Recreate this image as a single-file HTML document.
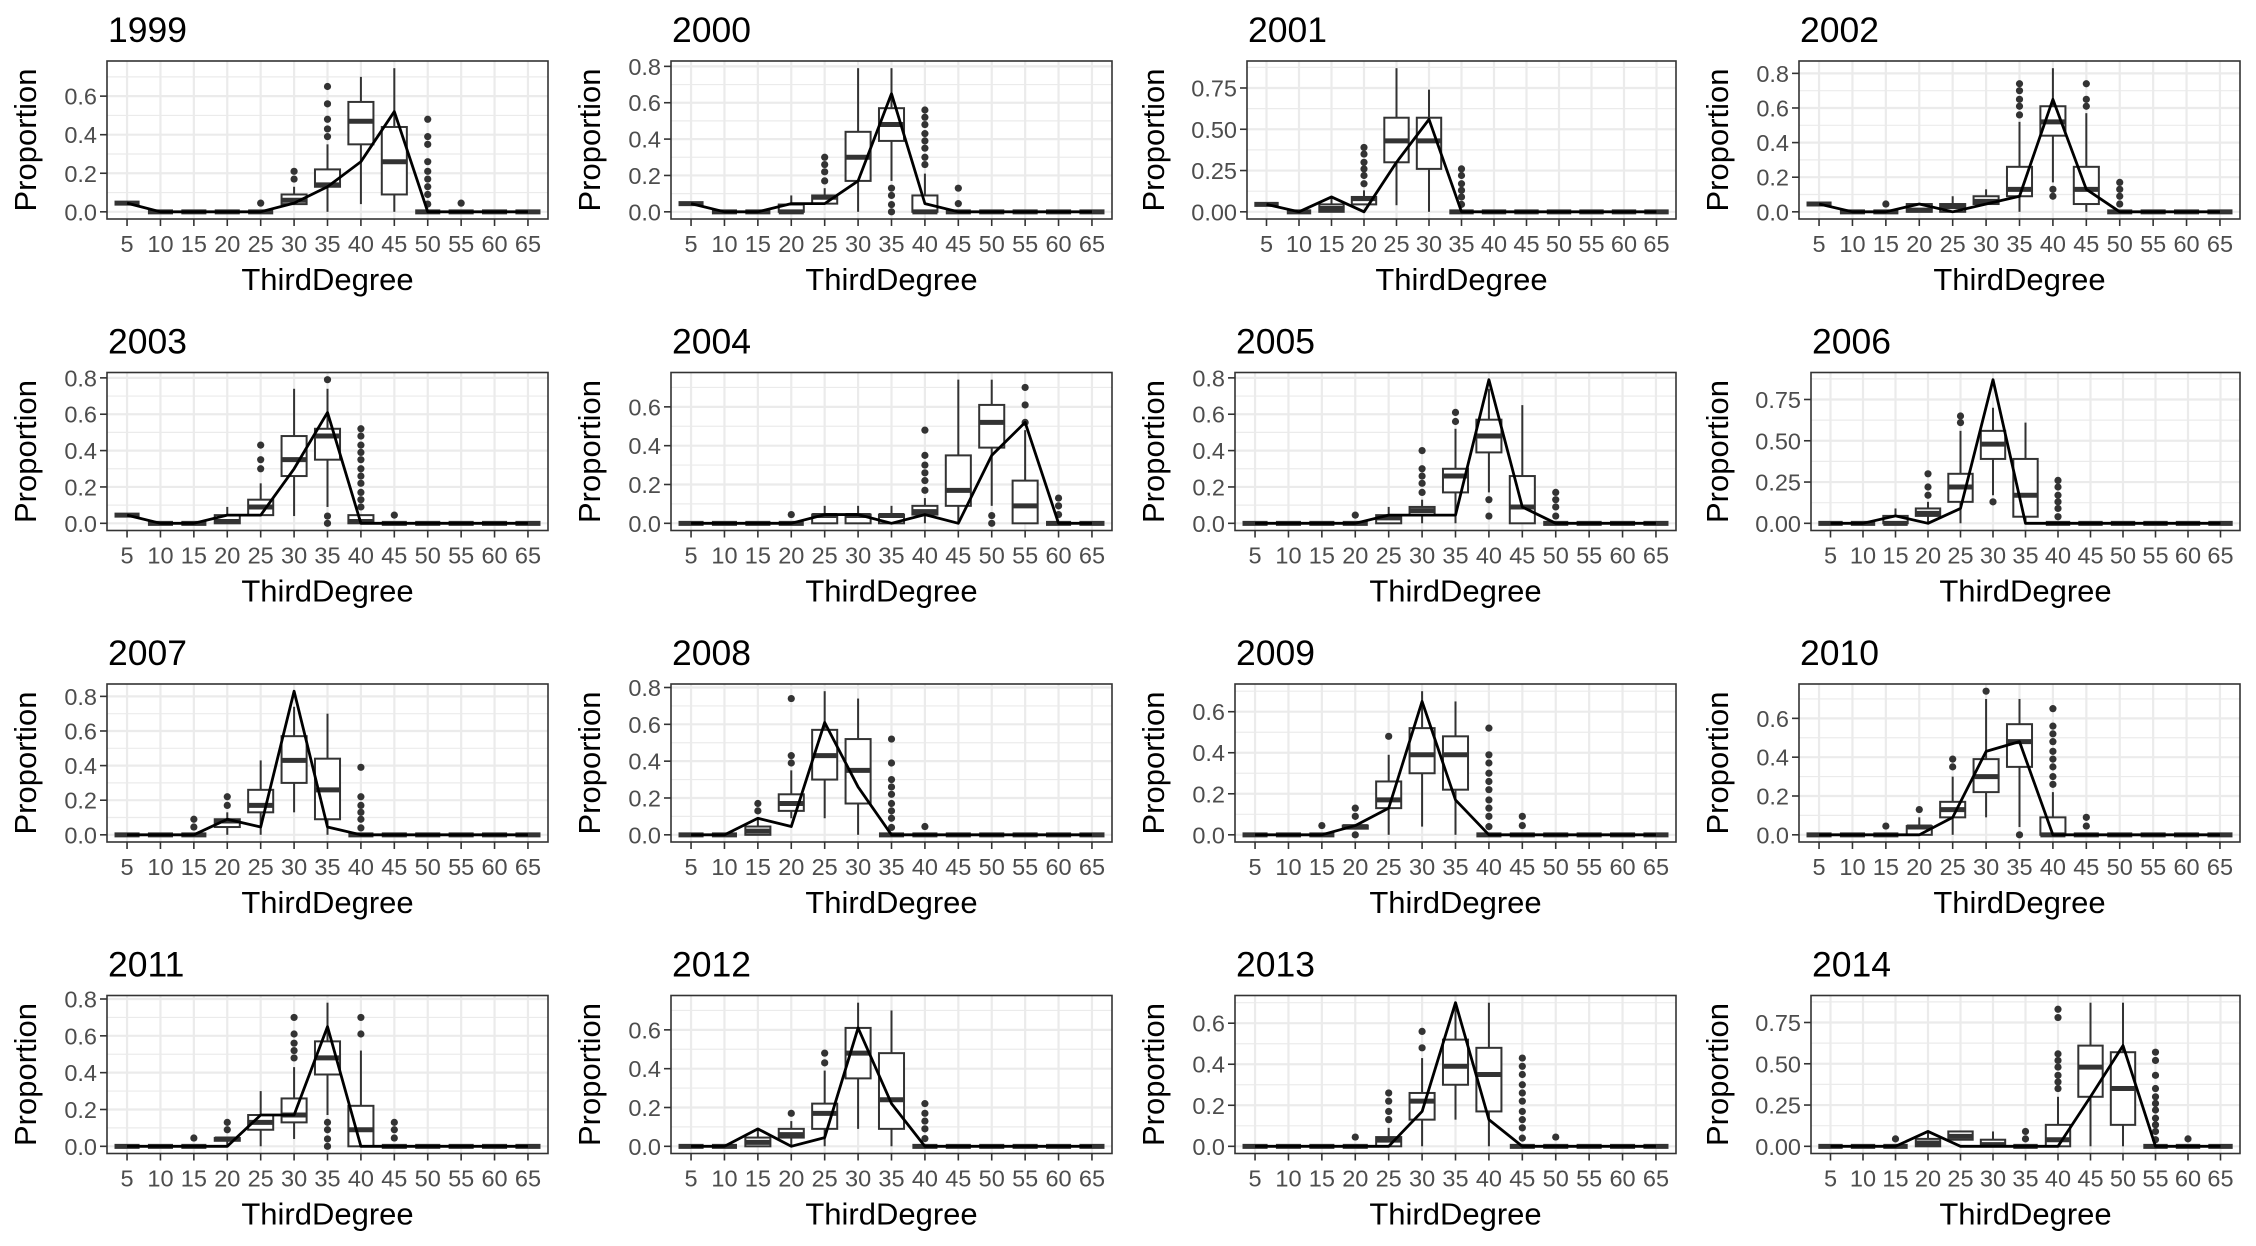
<!DOCTYPE html>
<html><head><meta charset="utf-8">
<style>
html,body{margin:0;padding:0;background:#fff;}
svg{display:block;font-family:"Liberation Sans",Arial,sans-serif;}
</style></head>
<body>
<svg id="chart" width="2256" height="1246" viewBox="0 0 2256 1246" xmlns="http://www.w3.org/2000/svg"></svg>
<script>
const years = [1999,2000,2001,2002,2003,2004,2005,2006,2007,2008,2009,2010,2011,2012,2013,2014];
const categories = [5,10,15,20,25,30,35,40,45,50,55,60,65];
const tickSteps = [.2,.2,.25,.2,.2,.2,.2,.25,.2,.2,.2,.2,.2,.2,.2,.25];
const Z=[0,0,0,0,0], F=[.045,.045,.045,.045,.045];
const boxStats = [
[F,Z,Z,Z,Z,[.04,.04,.06,.09,.13],[0,.13,.14,.22,.35],[.04,.35,.47,.57,.70],[0,.09,.26,.44,.745],Z,Z,Z,Z],
[F,Z,Z,[0,0,0,.04,.09],[.045,.045,.08,.09,.13],[0,.17,.30,.44,.79],[.17,.39,.48,.57,.79],[0,0,0,.09,.21],Z,Z,Z,Z,Z],
[F,Z,[0,0,.02,.045,.09],[.045,.045,.08,.09,.13],[.04,.30,.43,.57,.87],[0,.26,.43,.57,.74],Z,Z,Z,Z,Z,Z,Z],
[F,Z,Z,[0,0,.01,.045,.045],[0,0,.03,.045,.09],[.045,.045,.06,.09,.13],[0,.09,.13,.26,.52],[.17,.44,.52,.61,.83],[0,.045,.13,.26,.57],Z,Z,Z,Z],
[F,Z,Z,[0,0,.01,.045,.09],[.045,.045,.09,.13,.22],[.04,.26,.35,.48,.74],[.09,.35,.48,.52,.74],[0,0,.01,.045,.045],Z,Z,Z,Z,Z],
[Z,Z,Z,Z,[0,0,.04,.045,.09],[0,0,.04,.045,.09],[0,0,.04,.045,.09],[0,.045,.06,.09,.13],[0,.09,.17,.35,.74],[.09,.39,.52,.61,.74],[0,0,.09,.22,.48],Z,Z],
[Z,Z,Z,Z,[0,0,.03,.045,.09],[0,.045,.07,.09,.13],[0,.17,.26,.30,.52],[.17,.39,.48,.57,.74],[0,0,.09,.26,.65],Z,Z,Z,Z],
[Z,Z,[0,0,0,.045,.09],[0,.045,.06,.09,.13],[0,.13,.22,.30,.56],[.17,.39,.48,.56,.70],[0,.04,.17,.39,.61],Z,Z,Z,Z,Z,Z],
[Z,Z,Z,[0,.045,.08,.09,.13],[0,.13,.17,.26,.43],[.13,.30,.43,.57,.74],[0,.09,.26,.44,.70],Z,Z,Z,Z,Z,Z],
[Z,Z,[0,0,.02,.045,.09],[.09,.13,.17,.22,.35],[.09,.30,.43,.57,.78],[0,.17,.35,.52,.74],Z,Z,Z,Z,Z,Z,Z],
[Z,Z,Z,[.03,.03,.04,.045,.045],[0,.13,.17,.26,.39],[.04,.30,.39,.52,.70],[0,.22,.39,.48,.65],Z,Z,Z,Z,Z,Z],
[Z,Z,Z,[0,0,.04,.045,.09],[0,.09,.13,.17,.30],[.09,.22,.30,.39,.70],[.04,.35,.48,.57,.70],[0,0,0,.09,.22],Z,Z,Z,Z,Z],
[Z,Z,Z,[0,.03,.04,.045,.045],[0,.09,.13,.17,.30],[.04,.13,.17,.26,.43],[.17,.39,.48,.57,.78],[0,0,.09,.22,.52],Z,Z,Z,Z,Z],
[Z,Z,[0,0,.02,.045,.09],[0,.045,.06,.09,.13],[0,.09,.17,.22,.39],[.09,.35,.48,.61,.74],[0,.09,.24,.48,.70],Z,Z,Z,Z,Z,Z],
[Z,Z,Z,Z,[0,0,.03,.045,.09],[0,.13,.22,.26,.43],[.13,.30,.39,.52,.70],[0,.17,.35,.48,.70],Z,Z,Z,Z,Z],
[Z,Z,Z,[0,0,.02,.045,.09],[.04,.04,.06,.09,.09],[0,0,.01,.04,.09],Z,[0,0,.04,.13,.30],[0,.30,.48,.61,.87],[0,.13,.35,.57,.87],Z,Z,Z]
];
const outliers = [
[[4,.045],[5,.17],[5,.21],[6,.39],[6,.43],[6,.48],[6,.56],[6,.65],[9,.04],[9,.09],[9,.13],[9,.17],[9,.21],[9,.26],[9,.35],[9,.39],[9,.48],[10,.045]],
[[4,.17],[4,.22],[4,.26],[4,.30],[6,0],[6,.04],[6,.09],[6,.13],[7,.26],[7,.30],[7,.35],[7,.39],[7,.43],[7,.48],[7,.52],[7,.56],[8,.045],[8,.13]],
[[3,.17],[3,.22],[3,.26],[3,.30],[3,.35],[3,.39],[6,.045],[6,.09],[6,.13],[6,.17],[6,.22],[6,.26]],
[[2,.045],[6,.56],[6,.61],[6,.65],[6,.70],[6,.74],[7,.09],[7,.13],[8,.61],[8,.65],[8,.74],[9,.045],[9,.09],[9,.13],[9,.17]],
[[4,.30],[4,.35],[4,.43],[6,0],[6,.04],[6,.79],[7,.09],[7,.13],[7,.17],[7,.22],[7,.26],[7,.30],[7,.35],[7,.39],[7,.43],[7,.48],[7,.52],[8,.045]],
[[3,.045],[7,.17],[7,.22],[7,.26],[7,.30],[7,.35],[7,.48],[9,0],[9,.04],[10,.52],[10,.61],[10,.70],[11,.045],[11,.09],[11,.13]],
[[3,.045],[5,.17],[5,.22],[5,.26],[5,.30],[5,.40],[6,.56],[6,.61],[7,.04],[7,.13],[9,.04],[9,.09],[9,.13],[9,.17]],
[[3,.17],[3,.22],[3,.30],[4,.61],[4,.65],[5,.13],[7,.04],[7,.09],[7,.13],[7,.17],[7,.22],[7,.26]],
[[2,.045],[2,.09],[3,.17],[3,.22],[7,.04],[7,.09],[7,.13],[7,.17],[7,.22],[7,.39]],
[[2,.13],[2,.17],[3,.39],[3,.43],[3,.74],[6,.04],[6,.09],[6,.13],[6,.17],[6,.22],[6,.26],[6,.30],[6,.39],[6,.52],[7,.045]],
[[2,.045],[3,0],[3,.09],[3,.13],[4,.48],[7,.04],[7,.09],[7,.13],[7,.17],[7,.22],[7,.26],[7,.30],[7,.35],[7,.39],[7,.52],[8,.045],[8,.09]],
[[2,.045],[3,.13],[4,.35],[4,.39],[5,.74],[6,0],[7,.26],[7,.30],[7,.35],[7,.39],[7,.43],[7,.48],[7,.52],[7,.56],[7,.65],[8,.045],[8,.09]],
[[2,.045],[3,.09],[3,.13],[5,.48],[5,.52],[5,.56],[5,.61],[5,.70],[6,0],[6,.04],[6,.09],[6,.13],[7,.61],[7,.70],[8,.045],[8,.09],[8,.13]],
[[3,.17],[4,.43],[4,.48],[7,.04],[7,.09],[7,.13],[7,.17],[7,.22]],
[[3,.045],[4,.13],[4,.17],[4,.22],[4,.26],[5,.48],[5,.56],[8,.04],[8,.09],[8,.13],[8,.17],[8,.22],[8,.26],[8,.30],[8,.35],[8,.39],[8,.43],[9,.045]],
[[2,.045],[6,.045],[6,.09],[7,.35],[7,.39],[7,.43],[7,.48],[7,.52],[7,.56],[7,.78],[7,.83],[10,.04],[10,.09],[10,.13],[10,.17],[10,.22],[10,.26],[10,.30],[10,.35],[10,.43],[10,.52],[10,.57],[11,.045]]
];
const lineVals = [
[.045,0,0,0,0,.045,.13,.26,.52,0,0,0,0],
[.045,0,0,.045,.045,.17,.65,.045,0,0,0,0,0],
[.045,0,.09,0,.30,.56,0,0,0,0,0,0,0],
[.045,0,0,.045,0,.045,.09,.65,.13,0,0,0,0],
[.045,0,0,.045,.045,.30,.61,0,0,0,0,0,0],
[0,0,0,0,.045,.045,0,.045,0,.35,.52,0,0],
[0,0,0,0,.045,.045,.045,.79,.09,0,0,0,0],
[0,0,.045,0,.09,.87,0,0,0,0,0,0,0],
[0,0,0,.09,.045,.83,.045,0,0,0,0,0,0],
[0,0,.09,.045,.61,.26,0,0,0,0,0,0,0],
[0,0,0,.045,.13,.65,.17,0,0,0,0,0,0],
[0,0,0,0,.09,.43,.48,0,0,0,0,0,0],
[0,0,0,0,.17,.17,.65,0,0,0,0,0,0],
[0,0,.09,0,.045,.61,.22,0,0,0,0,0,0],
[0,0,0,0,0,.17,.70,.13,0,0,0,0,0],
[0,0,0,.09,0,0,0,0,.30,.61,0,0,0]
];

const NS="http://www.w3.org/2000/svg";
const svg=document.getElementById('chart');
function mk(tag,attrs,parent){const e=document.createElementNS(NS,tag);for(const k in attrs)e.setAttribute(k,attrs[k]);parent.appendChild(e);return e;}

years.forEach((yr,p)=>{
  const col=p%4,row=Math.floor(p/4);
  const cx=col*564, cy=row*311.5;
  const step=tickSteps[p];
  const dec=step===.25?2:1;
  const left=cx+(dec===2?119:107), right=cx+548, top=cy+61, bottom=cy+219;
  let maxV=0;
  boxStats[p].forEach(b=>{maxV=Math.max(maxV,b[4]);});
  outliers[p].forEach(o=>{maxV=Math.max(maxV,o[1]);});
  lineVals[p].forEach(v=>{maxV=Math.max(maxV,v);});
  const y0=-0.05*maxV, y1=1.05*maxV;
  const ys=v=>bottom-(v-y0)/(y1-y0)*(bottom-top);
  const bw=(right-left)/13.2;
  const xs=i=>left+(i+1-0.4)*bw;

  const g=mk('g',{},svg);
  
  

  const bg=mk('rect',{x:left,y:top,width:right-left,height:bottom-top,fill:'#fff'},g);
  
  
  for(let v=step/2; v<y1; v+=step){
    const gl=mk('line',{x1:left,x2:right,y1:ys(v),y2:ys(v),stroke:'#ebebeb','stroke-width':1.2},g);
    
    
  }
  const ticks=[];
  for(let v=0; v<=y1+1e-9; v+=step) ticks.push(v);
  ticks.forEach(v=>{
    const gl=mk('line',{x1:left,x2:right,y1:ys(v),y2:ys(v),stroke:'#ebebeb','stroke-width':2.2},g);
    
    
  });
  categories.forEach((c,i)=>{
    const gl=mk('line',{x1:xs(i),x2:xs(i),y1:top,y2:bottom,stroke:'#ebebeb','stroke-width':2.2},g);
    
    
  });
  boxStats[p].forEach((b,i)=>{
    const x=xs(i), hw=bw*0.375;
    const bg2=mk('g',{},g);
    
    
    mk('line',{x1:x,x2:x,y1:ys(b[3]),y2:ys(b[4]),stroke:'#333','stroke-width':2},bg2);
    mk('line',{x1:x,x2:x,y1:ys(b[0]),y2:ys(b[1]),stroke:'#333','stroke-width':2},bg2);
    mk('rect',{x:x-hw,y:ys(b[3]),width:2*hw,height:Math.max(0,ys(b[1])-ys(b[3])),fill:'#fff',stroke:'#333','stroke-width':2},bg2);
    mk('line',{x1:x-hw,x2:x+hw,y1:ys(b[2]),y2:ys(b[2]),stroke:'#333','stroke-width':5},bg2);
  });
  outliers[p].forEach(o=>{
    const c=mk('circle',{cx:xs(o[0]),cy:ys(o[1]),r:3.6,fill:'#333'},g);
    
    
  });
  const pl=mk('polyline',{points:lineVals[p].map((v,i)=>xs(i)+','+ys(v)).join(' '),fill:'none',stroke:'#000','stroke-width':2.8,'stroke-linejoin':'round'},g);
  
  
  const border=mk('rect',{x:left,y:top,width:right-left,height:bottom-top,fill:'none',stroke:'#333','stroke-width':1.6},g);
  
  
  ticks.forEach(v=>{
    mk('line',{x1:left-7,x2:left,y1:ys(v),y2:ys(v),stroke:'#333','stroke-width':1.6},g);
    const t=mk('text',{x:left-10,y:ys(v)+8.5,'text-anchor':'end','font-size':23.5,fill:'#4d4d4d'},g);
    t.textContent=v.toFixed(dec);
    
    
  });
  categories.forEach((c,i)=>{
    mk('line',{x1:xs(i),x2:xs(i),y1:bottom,y2:bottom+7,stroke:'#333','stroke-width':1.6},g);
    const t=mk('text',{x:xs(i),y:cy+252,'text-anchor':'middle','font-size':23.5,fill:'#4d4d4d'},g);
    t.textContent=c;
    
    
  });
  const xt=mk('text',{x:(left+right)/2,y:cy+290,'text-anchor':'middle','font-size':31,fill:'#000'},g);
  xt.textContent='ThirdDegree';
  
  
  const ym=(top+bottom)/2;
  const yt=mk('text',{x:cx+36,y:ym,'text-anchor':'middle','font-size':31,fill:'#000',transform:'rotate(-90 '+(cx+36)+' '+ym+')'},g);
  yt.textContent='Proportion';
  
  
  const tt=mk('text',{x:left+1,y:cy+42,'font-size':35.5,fill:'#000'},g);
  tt.textContent=yr;
  
  
});
</script>
</body></html>
